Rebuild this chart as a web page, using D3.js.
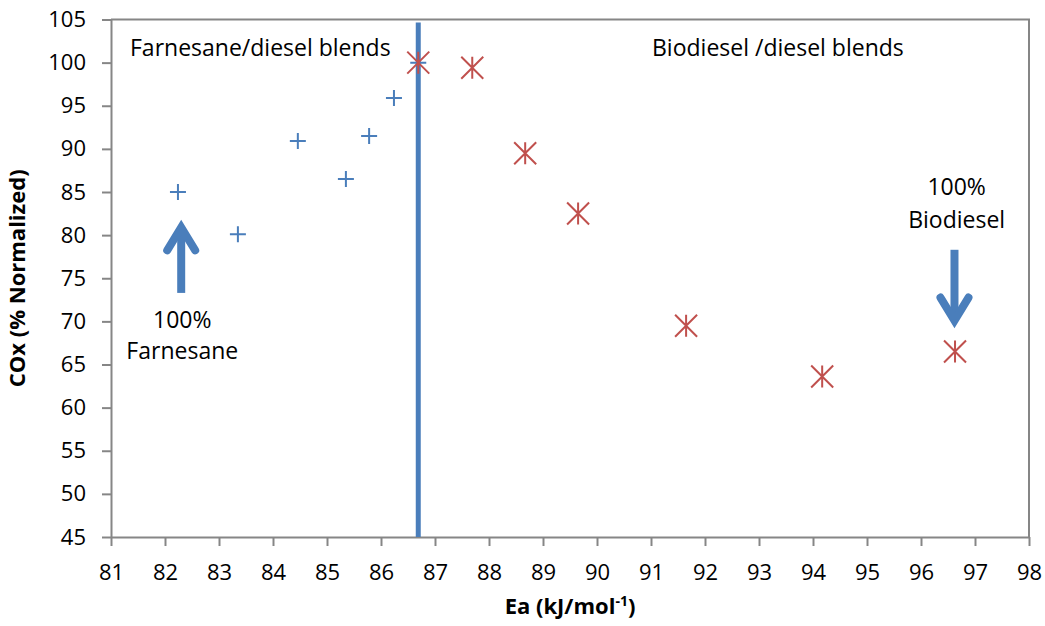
<!DOCTYPE html>
<meta charset="utf-8">
<style>
body { margin: 0; background: #fff; }
text { font-family: "Open Sans", "Liberation Sans", sans-serif; fill: #000; }
.axis path, .axis line { stroke: #868686; stroke-width: 2; }
.axis text { font-size: 22px; }
.note { font-size: 23px; }
</style>
<body>
<script src="https://cdn.jsdelivr.net/npm/d3@7"></script>
<script>

// Farnesane/diesel blends (plus markers)
const farnEa = [82.24, 83.35, 84.46, 85.35, 85.78, 86.24, 86.69];
const farnCOx = [85.0, 80.1, 90.9, 86.5, 91.5, 95.9, 100.0];

// Biodiesel/diesel blends (asterisk markers)
const bioEa = [86.69, 87.69, 88.67, 89.65, 91.65, 94.17, 96.63];
const bioCOx = [100.0, 99.4, 89.5, 82.5, 69.5, 63.6, 66.5];

const xTicks = d3.range(81, 99, 1);
const yTicks = d3.range(45, 106, 5);

const splitEa = 86.69;

let width = 1045, height = 626,
    margin = {top: 19.5, right: 16, bottom: 89, left: 111};

let x = d3.scaleLinear().domain([81, 98]).range([margin.left, width - margin.right]);
let y = d3.scaleLinear().domain([45, 105]).range([height - margin.bottom, margin.top]);

let svg = d3.select("body").append("svg")
    .attr("width", width)
    .attr("height", height);

// frame: top and right edges
svg.append("path")
    .attr("d", "M" + x(81) + "," + y(105) + "H" + x(98) + "V" + y(45))
    .attr("fill", "none")
    .attr("stroke", "#868686")
    .attr("stroke-width", 2);

svg.append("g")
    .attr("class", "axis")
    .attr("transform", "translate(0," + y(45) + ")")
    .call(d3.axisBottom(x).tickValues(xTicks).tickFormat(d3.format("d")).tickSize(9).tickSizeOuter(0).tickPadding(18));

svg.append("g")
    .attr("class", "axis")
    .attr("transform", "translate(" + x(81) + ",0)")
    .call(d3.axisLeft(y).tickValues(yTicks).tickSize(9).tickSizeOuter(0).tickPadding(16));

svg.selectAll(".axis .domain").attr("stroke", "#868686");

// vertical divider
svg.append("line")
    .attr("x1", x(splitEa)).attr("x2", x(splitEa))
    .attr("y1", y(105) + 3).attr("y2", y(45))
    .attr("stroke", "#4a7ebb")
    .attr("stroke-width", 5);

// plus markers
let s = 8;
svg.append("g").selectAll("path")
    .data(farnEa.map((d, i) => [d, farnCOx[i]]))
    .join("path")
    .attr("transform", d => "translate(" + x(d[0]) + "," + y(d[1]) + ")")
    .attr("d", "M" + (-s) + ",0H" + s + "M0," + (-s) + "V" + s)
    .attr("stroke", "#4a7ebb")
    .attr("stroke-width", 2);

// asterisk markers
let a = 11;
svg.append("g").selectAll("path")
    .data(bioEa.map((d, i) => [d, bioCOx[i]]))
    .join("path")
    .attr("transform", d => "translate(" + x(d[0]) + "," + y(d[1]) + ")")
    .attr("d", "M0," + (-a) + "V" + a + "M" + (-a) + "," + (-a) + "L" + a + "," + a + "M" + (-a) + "," + a + "L" + a + "," + (-a))
    .attr("stroke", "#c0504d")
    .attr("stroke-width", 2);

// arrows
function arrow(x0, y0, x1, y1) {
  let px0 = x(x0), py0 = y(y0), px1 = x(x1), py1 = y(y1);
  let dir = py1 < py0 ? 1 : -1;
  svg.append("line")
      .attr("x1", px0).attr("y1", py0)
      .attr("x2", px1).attr("y2", py1 + dir * 6)
      .attr("stroke", "#4a7ebb").attr("stroke-width", 8);
  svg.append("path")
      .attr("d", "M" + (px1 - 14) + "," + (py1 + dir * 29) + "L" + px1 + "," + (py1 + dir * 6) + "L" + (px1 + 14) + "," + (py1 + dir * 29))
      .attr("fill", "none")
      .attr("stroke", "#4a7ebb").attr("stroke-width", 8)
      .attr("stroke-linecap", "round")
      .attr("stroke-linejoin", "miter");
}
arrow(82.3, 73.3, 82.3, 81.6);
arrow(96.62, 78.3, 96.62, 69.4);

// annotation text
svg.append("text").attr("class", "note").attr("x", 130).attr("y", 56).text("Farnesane/diesel blends");
svg.append("text").attr("class", "note").attr("x", 652).attr("y", 56).text("Biodiesel /diesel blends");
svg.append("text").attr("class", "note").attr("x", x(82.32)).attr("y", 328).attr("text-anchor", "middle").text("100%");
svg.append("text").attr("class", "note").attr("x", x(82.32)).attr("y", 359).attr("text-anchor", "middle").text("Farnesane");
svg.append("text").attr("class", "note").attr("x", x(96.66)).attr("y", 195).attr("text-anchor", "middle").text("100%");
svg.append("text").attr("class", "note").attr("x", x(96.66)).attr("y", 228).attr("text-anchor", "middle").text("Biodiesel");

// axis titles
svg.append("text")
    .attr("transform", "translate(25," + ((y(45) + y(105)) / 2) + ")rotate(-90)")
    .attr("text-anchor", "middle")
    .style("font-size", "22px").style("font-weight", "bold")
    .text("COx (% Normalized)");

let xt = svg.append("text")
    .attr("x", (x(81) + x(98)) / 2)
    .attr("y", 614)
    .attr("text-anchor", "middle")
    .style("font-size", "22px").style("font-weight", "bold");
xt.append("tspan").text("Ea (kJ/mol");
xt.append("tspan").attr("dy", -8).style("font-size", "14px").text("-1");
xt.append("tspan").attr("dy", 8).text(")");

</script>
